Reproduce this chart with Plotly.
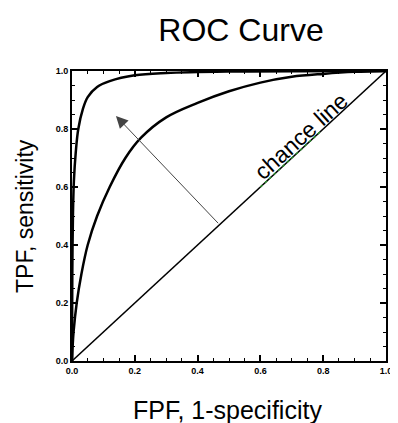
import plotly.graph_objects as go

# Data
upper_fpf = [0.0, 0.0005, 0.001, 0.003, 0.006, 0.012, 0.02, 0.035, 0.05, 0.08, 0.12, 0.2, 0.3, 0.5, 0.7, 1.0]
upper_tpf = [0.0, 0.15, 0.3, 0.5, 0.62, 0.72, 0.8, 0.87, 0.91, 0.945, 0.965, 0.985, 0.993, 0.998, 0.999, 1.0]

mid_fpf = [0.0, 0.002, 0.005, 0.015, 0.03, 0.05, 0.08, 0.12, 0.17, 0.22, 0.3, 0.4, 0.5, 0.6, 0.7, 0.8, 0.9, 1.0]
mid_tpf = [0.0, 0.05, 0.1, 0.2, 0.3, 0.4, 0.5, 0.6, 0.7, 0.77, 0.84, 0.89, 0.93, 0.96, 0.98, 0.99, 0.997, 1.0]

chance_fpf = [0.0, 1.0]
chance_tpf = [0.0, 1.0]

squiggle_fpf = [0.60, 0.79]
squiggle_tpf = [0.60, 0.79]

arrow_start = (0.47, 0.47)
arrow_end = (0.14, 0.845)

tick_vals = [0.0, 0.2, 0.4, 0.6, 0.8, 1.0]
tick_text = ["0.0", "0.2", "0.4", "0.6", "0.8", "1.0"]

FONT = "Liberation Sans, Arial"

fig = go.Figure()
fig.add_trace(go.Scatter(x=chance_fpf, y=chance_tpf, mode="lines",
                         line=dict(color="black", width=1.5), hoverinfo="skip"))
fig.add_trace(go.Scatter(x=squiggle_fpf, y=squiggle_tpf, mode="lines",
                         line=dict(color="#2a8a2a", width=1.5, dash="dot"), hoverinfo="skip"))
fig.add_trace(go.Scatter(x=mid_fpf, y=mid_tpf, mode="lines", line_shape="spline",
                         line=dict(color="black", width=2.5), hoverinfo="skip"))
fig.add_trace(go.Scatter(x=upper_fpf, y=upper_tpf, mode="lines", line_shape="spline",
                         line=dict(color="black", width=2.5), hoverinfo="skip"))

fig.add_annotation(x=arrow_end[0], y=arrow_end[1], ax=arrow_start[0], ay=arrow_start[1],
                   xref="x", yref="y", axref="x", ayref="y", text="",
                   showarrow=True, arrowhead=2, arrowsize=2.4, arrowwidth=1,
                   arrowcolor="#444444")

fig.add_annotation(x=0.73, y=0.775, xref="x", yref="y", text="chance line",
                   showarrow=False, textangle=-42,
                   font=dict(family=FONT, size=23, color="black"))

fig.add_annotation(x=0, y=0.5, xref="paper", yref="paper", xshift=-47,
                   xanchor="center", yanchor="middle",
                   text="TPF, sensitivity", textangle=-90, showarrow=False,
                   font=dict(family=FONT, size=23, color="black"))
fig.add_annotation(x=(230.5 - 72) / 320, y=0, xref="paper", yref="paper", yshift=-49,
                   xanchor="center", yanchor="middle",
                   text="FPF, 1-specificity", showarrow=False,
                   font=dict(family=FONT, size=25, color="black"))

axis_common = dict(range=[0, 1], tickvals=tick_vals, ticktext=tick_text,
                   ticks="inside", ticklen=6, tickwidth=1.5, tickcolor="black",
                   showline=True, linecolor="black", linewidth=2, mirror="ticks",
                   showgrid=False, zeroline=False,
                   tickfont=dict(family=FONT, size=9, color="black", weight="bold"),
                   minor=dict(tickvals=[i * 0.05 for i in range(21)], ticks="inside",
                              ticklen=3, tickwidth=1, tickcolor="black", showgrid=False))

# The page body has an 8px margin, so the figure is sized/margined to compensate.
fig.update_layout(
    width=390, height=415,
    margin=dict(l=64, r=6, t=63, b=62),
    paper_bgcolor="white", plot_bgcolor="white",
    showlegend=False,
    title=dict(text="ROC Curve", x=(241 - 8) / 390, xanchor="center",
               y=1 - 22 / 415, yanchor="middle",
               font=dict(family=FONT, size=32, color="black")),
    xaxis=dict(**axis_common),
    yaxis=dict(**axis_common),
)

fig.write_html("out.html")
